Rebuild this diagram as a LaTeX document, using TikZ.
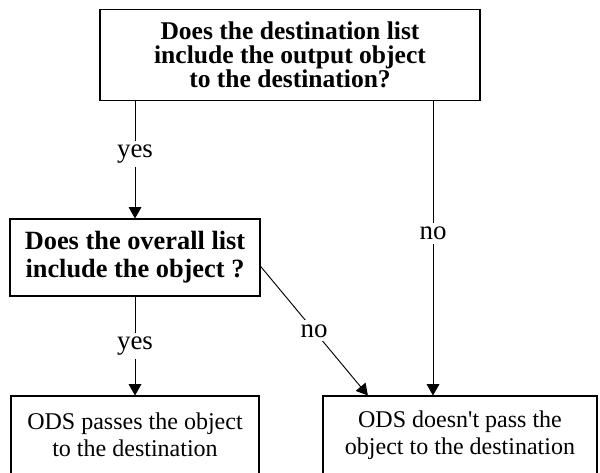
\documentclass[tikz,border=0pt]{standalone}
\usepackage{fontspec}
\setmainfont{Liberation Serif}
\usetikzlibrary{arrows.meta,calc}
\tikzset{
  box/.style={draw, line width=0.9pt, rectangle, align=center, inner sep=0pt},
  lbl/.style={fill=white, inner sep=3.5pt, font=\fontsize{23}{23}\selectfont},
}
\begin{document}
\begin{tikzpicture}[x=0.03cm, y=-0.03cm, >={Triangle[length=3.4mm,width=3.8mm]}, line width=0.8pt]
    \useasboundingbox (0,0) rectangle (600,472);
    % questions
    \node[box, minimum width=11.4cm, minimum height=2.73cm, font=\bfseries\fontsize{21.8}{20.5}\selectfont] (dest) at (290,55)
        {Does the destination list\\include the output object\\to the destination?};
    \node[box, minimum width=7.5cm, minimum height=2.31cm, font=\bfseries\fontsize{22.5}{24}\selectfont] (overall) at (135,257.5)
        {Does the overall list\\include the object ?};
    % results
    \node[box, minimum width=7.44cm, minimum height=2.34cm, font=\fontsize{20.5}{23}\selectfont] (pass) at (135,435)
        {ODS passes the object\\to the destination};
    \node[box, minimum width=8.22cm, minimum height=2.34cm, font=\fontsize{20.5}{23}\selectfont] (nopass) at (460,435)
        {ODS doesn\textquotesingle t pass the\\object to the destination};
    \coordinate (rx) at (433,0);
    % connectors
    \draw[->] (dest.south -| overall.north) -- node[lbl, pos=0.45] (yes1) {yes} (overall.north);
    \draw[->] (overall.south) -- node[lbl] (yes2) {yes} (pass.north);
    \draw[->] (dest.south -| rx) -- node[lbl, pos=0.45] (no1) {no} (nopass.north -| rx);
    \draw[->] (overall.-4) -- node[lbl] (no2) {no} ($(nopass.north west)!0.165!(nopass.north east)$);
\end{tikzpicture}
\end{document}
